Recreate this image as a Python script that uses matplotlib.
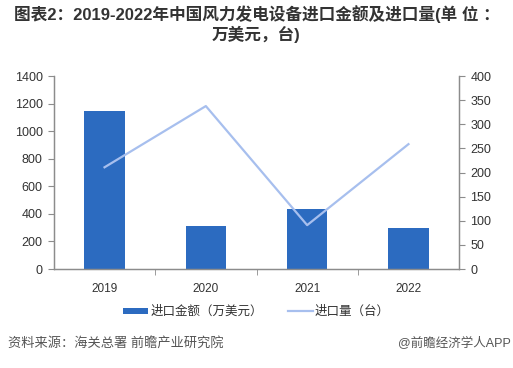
import matplotlib
matplotlib.use('Agg')
import matplotlib.pyplot as plt

plt.rcParams['font.family'] = ['Liberation Sans', 'Noto Sans CJK SC', 'DejaVu Sans']

# data
years = ['2019', '2020', '2021', '2022']
import_value = [1150, 310, 433, 300]      # 万美元
import_qty = [211, 338, 91, 259]          # 台
left_ticks = [0, 200, 400, 600, 800, 1000, 1200, 1400]
right_ticks = [0, 50, 100, 150, 200, 250, 300, 350, 400]

BAR_COLOR = '#2C6BC0'
LINE_COLOR = '#A7BFEE'
AXIS_COLOR = '#8C8C8C'
TEXT_COLOR = '#333333'

fig = plt.figure(figsize=(5.13, 3.68), dpi=100)
ax = fig.add_axes([0.105, 0.269, 0.79, 0.524])
ax2 = ax.twinx()

x = list(range(len(years)))
ax.bar(x, import_value, width=0.4, color=BAR_COLOR, label='进口金额（万美元）', zorder=2)
ax2.plot(x, import_qty, color=LINE_COLOR, linewidth=1.6, label='进口量（台）', zorder=3)

ax.set_xlim(-0.5, len(years) - 0.5)
ax.set_ylim(0, 1400)
ax2.set_ylim(0, 400)
ax.set_yticks(left_ticks)
ax2.set_yticks(right_ticks)

ax.set_xticks(x)
ax.set_xticklabels(years)
ax.set_xticks([0.5, 1.5, 2.5], minor=True)
ax.tick_params(axis='x', which='major', length=0, pad=10, labelsize=8.5, labelcolor=TEXT_COLOR)
ax.tick_params(axis='x', which='minor', length=4, color=AXIS_COLOR, direction='out')
ax.tick_params(axis='y', length=4, color=AXIS_COLOR, labelsize=9, labelcolor=TEXT_COLOR, pad=4)
ax2.tick_params(axis='y', length=4, color=AXIS_COLOR, labelsize=9, labelcolor=TEXT_COLOR, pad=4)

for a in (ax, ax2):
    a.spines['top'].set_visible(False)
    for s in ('left', 'right', 'bottom'):
        a.spines[s].set_color(AXIS_COLOR)
        a.spines[s].set_linewidth(0.9)
ax.set_zorder(ax2.get_zorder() - 1)
ax2.patch.set_visible(False)

# legend below the plot
h1, l1 = ax.get_legend_handles_labels()
h2, l2 = ax2.get_legend_handles_labels()
fig.legend(h1 + h2, l1 + l2, loc='center', bbox_to_anchor=(0.5, 0.152), ncol=2,
           frameon=False, fontsize=9, handlelength=2.0, handleheight=0.35,
           handletextpad=0.15, columnspacing=2.0, labelcolor=TEXT_COLOR)

fig.text(0.5, 0.962, '图表2：2019-2022年中国风力发电设备进口金额及进口量(单 位 ：',
         ha='center', va='center', fontsize=12, fontweight='bold', color=TEXT_COLOR)
fig.text(0.5, 0.907, '万美元，台)',
         ha='center', va='center', fontsize=12, fontweight='bold', color=TEXT_COLOR)

fig.text(0.015, 0.068, '资料来源：海关总署 前瞻产业研究院', ha='left', va='center',
         fontsize=9.5, color='#555555')
fig.text(0.995, 0.068, '@前瞻经济学人APP', ha='right', va='center',
         fontsize=9, color='#555555')

fig.savefig('out.png', dpi=100)
